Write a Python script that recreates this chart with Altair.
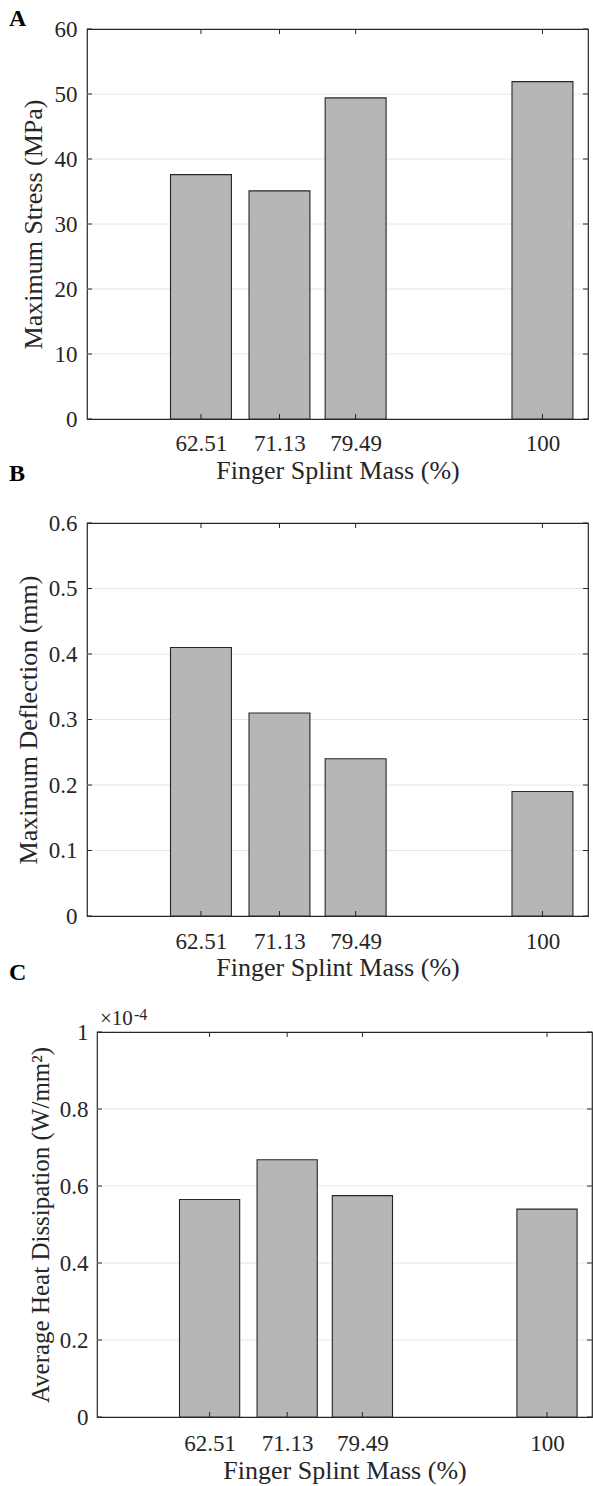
import altair as alt
import pandas as pd

# ---------------- data ----------------
mass = [62.51, 71.13, 79.49, 100]                 # Finger splint mass (%)
stress = [37.6, 35.1, 49.4, 51.9]                  # Maximum stress (MPa)
deflection = [0.41, 0.31, 0.24, 0.19]              # Maximum deflection (mm)
heat = [0.565, 0.668, 0.575, 0.540]                # Average heat dissipation (x1e-4 W/mm^2)

x_ticks = [62.51, 71.13, 79.49, 100]
x_domain = [50, 105]
stress_ticks = [0, 10, 20, 30, 40, 50, 60]
deflection_ticks = [0, 0.1, 0.2, 0.3, 0.4, 0.5, 0.6]
heat_ticks = [0, 0.2, 0.4, 0.6, 0.8, 1]

x_title = "Finger Splint Mass (%)"
stress_title = "Maximum Stress (MPa)"
deflection_title = "Maximum Deflection (mm)"
heat_title = "Average Heat Dissipation (W/mm²)"
exp_base = ["×10"]
exp_power = ["-4"]

# ---------------- style ----------------
FONT = "Liberation Serif"
INK = "#262626"
BAR_FILL = "#b6b6b6"
GRID = "#e6e6e6"
TICK_LEN = 5
half = 0.4 * min(b - a for a, b in zip(mass, mass[1:]))


def panel(values, y_ticks, y_title, letter, w, h,
          x_lab_pad, x_title_pad, y_lab_pad, y_title_pad,
          letter_dx, letter_dy, y_title_size=26, extra=None):
    xs = alt.Scale(domain=x_domain, nice=False, zero=False)
    ys = alt.Scale(domain=[y_ticks[0], y_ticks[-1]], nice=False, zero=True)
    x_axis = alt.Axis(values=x_ticks, format=".6~g", title=x_title, grid=False,
                      ticks=False, tickSize=0, domain=False,
                      labelPadding=x_lab_pad, titlePadding=x_title_pad,
                      labelFlush=False, labelOverlap=False)
    y_axis = alt.Axis(values=y_ticks, format=".6~g", title=y_title, grid=False,
                      ticks=False, tickSize=0, domain=False,
                      labelPadding=y_lab_pad, titlePadding=y_title_pad,
                      titleFontSize=y_title_size,
                      labelFlush=False, labelOverlap=False)

    df = pd.DataFrame({"mass": mass, "value": values})
    xt = pd.DataFrame({"t": x_ticks})
    yt = pd.DataFrame({"t": y_ticks})
    yg = pd.DataFrame({"t": y_ticks[1:-1]})

    grid = alt.Chart(yg).mark_rule(color=GRID, strokeWidth=1).encode(
        y=alt.Y("t:Q", scale=ys, axis=y_axis), x=alt.value(0), x2=alt.value(w))

    bars = alt.Chart(df).transform_calculate(
        lo=f"datum.mass - {half}", hi=f"datum.mass + {half}"
    ).mark_rect(fill=BAR_FILL, stroke=INK, strokeWidth=1.1).encode(
        x=alt.X("lo:Q", scale=xs, axis=x_axis),
        x2="hi:Q",
        y=alt.Y("value:Q", scale=ys, axis=y_axis),
        y2=alt.datum(0),
    )

    tb = alt.Chart(xt).mark_rule(color=INK).encode(
        x=alt.X("t:Q", scale=xs, axis=x_axis), y=alt.value(h), y2=alt.value(h - TICK_LEN))
    tt = alt.Chart(xt).mark_rule(color=INK).encode(
        x=alt.X("t:Q", scale=xs, axis=x_axis), y=alt.value(0), y2=alt.value(TICK_LEN))
    tl = alt.Chart(yt).mark_rule(color=INK).encode(
        y=alt.Y("t:Q", scale=ys, axis=y_axis), x=alt.value(0), x2=alt.value(TICK_LEN))
    tr = alt.Chart(yt).mark_rule(color=INK).encode(
        y=alt.Y("t:Q", scale=ys, axis=y_axis), x=alt.value(w), x2=alt.value(w - TICK_LEN))

    layers = [grid, bars, tb, tt, tl, tr]
    if extra:
        layers += extra
    return alt.layer(*layers).properties(
        width=w, height=h,
        title=alt.TitleParams(letter, anchor="start", frame="group", fontSize=24,
                              fontWeight="bold", font=FONT, color="black",
                              dx=letter_dx, dy=letter_dy, offset=0),
    )


exp_layers = [
    alt.Chart(pd.DataFrame({"s": exp_base})).mark_text(
        align="left", baseline="alphabetic", font=FONT, fontSize=21, color=INK
    ).encode(text="s:N", x=alt.value(3), y=alt.value(-7)),
    alt.Chart(pd.DataFrame({"s": exp_power})).mark_text(
        align="left", baseline="alphabetic", font=FONT, fontSize=16, color=INK
    ).encode(text="s:N", x=alt.value(37), y=alt.value(-12)),
]

A = panel(stress, stress_ticks, stress_title, "A", 501, 390,
          13, 2, 10, 8, -78, 13)
B = panel(deflection, deflection_ticks, deflection_title, "B", 501, 393,
          14, 1, 10, 7, -78, -26)
C = panel(heat, heat_ticks, heat_title, "C", 495, 385,
          15, 2, 9, 6, -88, -22, y_title_size=25, extra=exp_layers)

spacer = alt.Chart(pd.DataFrame({"s": [0]})).mark_point(opacity=0).encode(
    x=alt.value(0), y=alt.value(0)
).properties(width=1, height=10, view=alt.ViewBackground(stroke="transparent"))

lower = alt.vconcat(
    B,
    alt.hconcat(spacer, C, spacing=9, bounds="flush"),
    spacing=116, bounds="flush",
)

chart = alt.vconcat(A, lower, spacing=104, bounds="flush").properties(
    autosize=alt.AutoSizeParams(type="none"),
    padding={"left": 87, "top": 29, "right": 506, "bottom": 1457},
).configure(
    background="white",
).configure_view(
    stroke=INK, strokeWidth=1.2,
).configure_axis(
    labelFont=FONT, titleFont=FONT, labelFontSize=23, titleFontSize=26,
    labelColor=INK, titleColor=INK, titleFontWeight="normal",
)

chart.save("out.html", embed_options={"renderer": "svg", "actions": False})
